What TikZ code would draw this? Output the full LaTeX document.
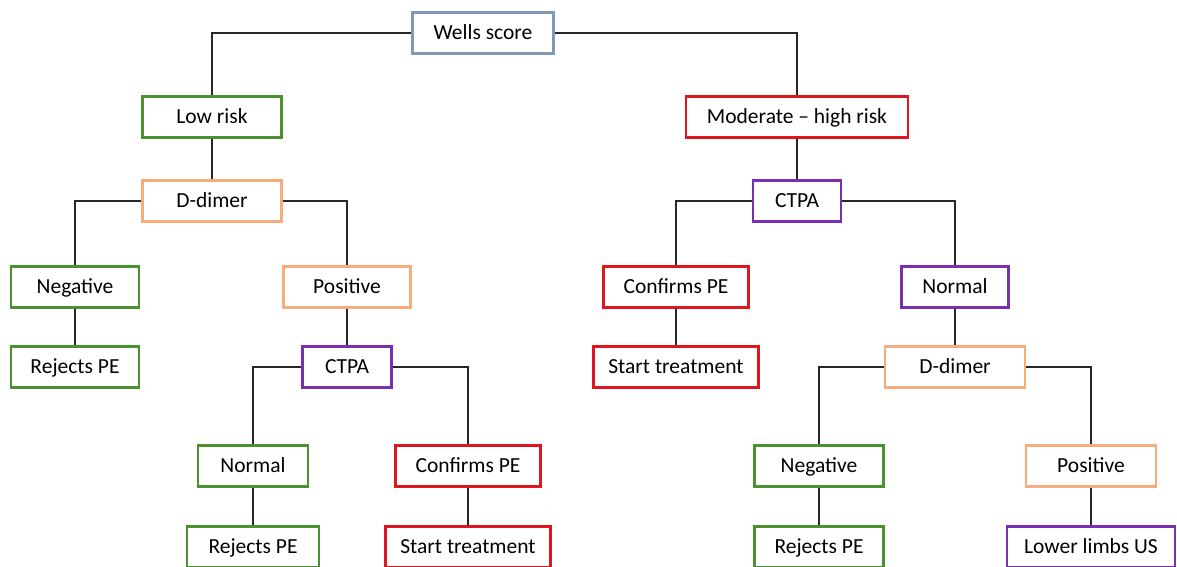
\documentclass[tikz,border=0pt]{standalone}
\usepackage{fontspec}
\setmainfont{Carlito}
\definecolor{cgreen}{HTML}{4A9130}
\definecolor{cred}{HTML}{E0161E}
\definecolor{corange}{HTML}{F8AC7A}
\definecolor{cpurple}{HTML}{7B2FB0}
\definecolor{cblue}{HTML}{7F99B6}
\begin{document}
\begin{tikzpicture}[x=1pt,y=-1pt,
  box/.style={draw, line width=2.4pt, fill=white, minimum height=41pt, inner sep=0pt, text height=16.5pt, text depth=4pt, font=\fontsize{21.5}{23}\selectfont, text=black},
  gbox/.style={box, draw=cgreen},
  rbox/.style={box, draw=cred},
  obox/.style={box, draw=corange},
  pbox/.style={box, draw=cpurple},
  bbox/.style={box, draw=cblue, line width=3.6pt},
  link/.style={draw=black!85, line width=1.4pt}]
\clip (0,0) rectangle (1177,566);
\useasboundingbox (0,0) rectangle (1177,566);
% nodes
\node[bbox, minimum width=141pt] (wells) at (483,33) {Wells score};
\node[gbox, minimum width=139pt] (low) at (212,117) {Low risk};
\node[rbox, minimum width=222pt] (mod) at (797,117) {Moderate – high risk};
\node[obox, minimum width=139pt] (dd1) at (212,201) {D-dimer};
\node[pbox, minimum width=88pt] (ctpa1) at (797,201) {CTPA};
\node[gbox, minimum width=128pt] (neg1) at (75,287) {Negative};
\node[obox, minimum width=127pt] (pos1) at (347,287) {Positive};
\node[rbox, minimum width=145pt] (conf1) at (676,287) {Confirms PE};
\node[pbox, minimum width=107pt] (norm1) at (955,287) {Normal};
\node[gbox, minimum width=128pt] (rej1) at (75,367) {Rejects PE};
\node[pbox, minimum width=89pt] (ctpa2) at (347,367) {CTPA};
\node[rbox, minimum width=165pt] (start1) at (676,367) {Start treatment};
\node[obox, minimum width=140pt] (dd2) at (955,367) {D-dimer};
\node[gbox, minimum width=110pt] (norm2) at (253,466) {Normal};
\node[rbox, minimum width=145pt] (conf2) at (468,466) {Confirms PE};
\node[gbox, minimum width=129pt] (neg2) at (819,466) {Negative};
\node[obox, minimum width=130pt] (pos2) at (1091,466) {Positive};
\node[gbox, minimum width=132pt] (rej2) at (253,547) {Rejects PE};
\node[rbox, minimum width=165pt] (start2) at (468,547) {Start treatment};
\node[gbox, minimum width=129pt] (rej3) at (819,547) {Rejects PE};
\node[pbox, minimum width=168pt] (lower) at (1091,547) {Lower limbs US};
% connectors
\path[link] (wells.west) -| (low.north);
\path[link] (wells.east) -| (mod.north);
\path[link] (low.south) -- (dd1.north);
\path[link] (dd1.west) -| (neg1.north);
\path[link] (dd1.east) -| (pos1.north);
\path[link] (neg1.south) -- (rej1.north);
\path[link] (pos1.south) -- (ctpa2.north);
\path[link] (ctpa2.west) -| (norm2.north);
\path[link] (ctpa2.east) -| (conf2.north);
\path[link] (norm2.south) -- (rej2.north);
\path[link] (conf2.south) -- (start2.north);
\path[link] (mod.south) -- (ctpa1.north);
\path[link] (ctpa1.west) -| (conf1.north);
\path[link] (ctpa1.east) -| (norm1.north);
\path[link] (conf1.south) -- (start1.north);
\path[link] (norm1.south) -- (dd2.north);
\path[link] (dd2.west) -| (neg2.north);
\path[link] (dd2.east) -| (pos2.north);
\path[link] (neg2.south) -- (rej3.north);
\path[link] (pos2.south) -- (lower.north);
\end{tikzpicture}
\end{document}
